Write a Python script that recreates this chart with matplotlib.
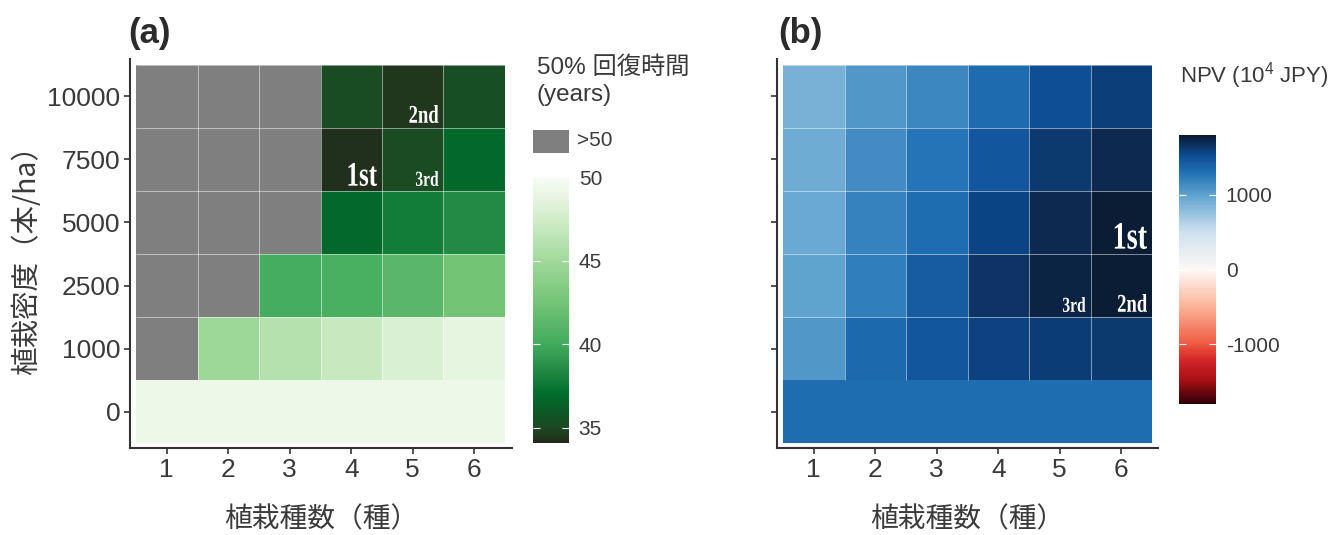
import numpy as np
import matplotlib
matplotlib.use("Agg")
import matplotlib.pyplot as plt
import matplotlib.transforms as mtransforms
from matplotlib.colors import LinearSegmentedColormap, Normalize
from matplotlib.cm import ScalarMappable
from matplotlib.patches import Rectangle, PathPatch
from matplotlib.textpath import TextPath
from matplotlib.font_manager import FontProperties

# ---------------- data ----------------
species = [1, 2, 3, 4, 5, 6]
density_labels = ["0", "1000", "2500", "5000", "7500", "10000"]

# 50% recovery time (years); NaN = longer than 50 years
recovery_1000 = [np.nan, 44.8, 46.0, 47.0, 48.0, 48.7]
recovery_2500 = [np.nan, np.nan, 40.2, 40.4, 41.2, 42.5]
recovery_5000 = [np.nan, np.nan, np.nan, 36.8, 37.8, 38.5]
recovery_7500 = [np.nan, np.nan, np.nan, 34.3, 35.1, 36.8]
recovery_10000 = [np.nan, np.nan, np.nan, 35.2, 34.5, 35.3]
recovery_no_planting = 49.2

# NPV (10^4 JPY)
npv_1000 = [1070, 1350, 1460, 1580, 1610, 1630]
npv_2500 = [990, 1220, 1430, 1650, 1735, 1780]
npv_5000 = [950, 1190, 1320, 1570, 1715, 1790]
npv_7500 = [930, 1140, 1280, 1460, 1625, 1710]
npv_10000 = [880, 1070, 1160, 1330, 1520, 1600]
npv_no_planting = 1320

# top three scenarios: (species, density, label)
ranks_recovery = [(4, "7500", "1st"), (5, "10000", "2nd"), (5, "7500", "3rd")]
ranks_npv = [(6, "5000", "1st"), (6, "2500", "2nd"), (5, "2500", "3rd")]

recovery_limits = (34.1, 50)
recovery_ticks = [35, 40, 45, 50]
npv_limits = (-1805, 1805)
npv_ticks = [-1000, 0, 1000]

# ---------------- style ----------------
plt.rcParams["font.family"] = ["Liberation Sans", "Noto Sans CJK JP"]
plt.rcParams["mathtext.fontset"] = "custom"
plt.rcParams["mathtext.rm"] = "Liberation Sans"
plt.rcParams["mathtext.it"] = "Liberation Sans:italic"
plt.rcParams["axes.unicode_minus"] = False
CJK = ["Noto Sans CJK JP", "DejaVu Sans"]
AX_COLOR = "#333333"
TXT_COLOR = "#3a3a3a"
GREY_NA = "#7f7f7f"

W, H = 1333, 535
fig = plt.figure(figsize=(W / 100, H / 100), dpi=100)


def px_rect(x0, y0, x1, y1):
    """Figure-fraction rectangle from pixel box (top-left origin)."""
    return [x0 / W, 1 - y1 / H, (x1 - x0) / W, (y1 - y0) / H]


green_anchors = [(34.1, "#23291a"), (35.0, "#1b4a22"), (35.8, "#0f5526"),
                 (37.0, "#006d2c"), (38.5, "#238b45"), (40.0, "#41ab5d"),
                 (42.5, "#74c476"), (45.0, "#a1d99b"), (47.0, "#c7e9c0"),
                 (48.5, "#e2f3dc"), (50.0, "#f7fcf5")]
lo, hi = recovery_limits
green_cmap = LinearSegmentedColormap.from_list(
    "recovery", [((v - lo) / (hi - lo), c) for v, c in green_anchors])
green_cmap.set_bad(GREY_NA)
green_norm = Normalize(lo, hi)

blue_anchors = [(-1805, "#2e0005"), (-1500, "#a50f15"), (-1200, "#d7282a"),
                (-1000, "#ef5a41"), (-500, "#fcb499"), (0, "#fdf8f6"),
                (500, "#cfe1ef"), (1000, "#5fa3cf"), (1300, "#2171b5"),
                (1550, "#0b4a90"), (1700, "#0d2d56"), (1805, "#0b1a30")]
nlo, nhi = npv_limits
npv_cmap = LinearSegmentedColormap.from_list(
    "npv", [((v - nlo) / (nhi - nlo), c) for v, c in blue_anchors])
npv_norm = Normalize(nlo, nhi)

rank_fp = FontProperties(family="Liberation Serif", weight="bold")


def rank_label(ax, x_right, y_bottom, text, height_px, squeeze=0.73, pad=5):
    tp = TextPath((0, 0), text, size=1, prop=rank_fp)
    ext = tp.get_extents()
    s = height_px / ext.height
    tr = (mtransforms.Affine2D().translate(-ext.x1, -ext.y0)
          .scale(s * squeeze, s).translate(-pad, pad)
          + mtransforms.ScaledTranslation(x_right, y_bottom, ax.transData))
    ax.add_patch(PathPatch(tp, transform=tr, facecolor="white",
                           edgecolor="none", zorder=5, clip_on=False))


def heat_panel(ax, rows, base_value, cmap, norm, ranks, rank_sizes, xlim, show_ylabels):
    n = len(species)
    x_edges = np.arange(n + 1) + 0.5
    y_edges = np.arange(1, len(rows) + 2) - 0.5
    grid = np.ma.masked_invalid(np.array(rows, dtype=float))
    # no-planting row is a single tile across all species counts
    ax.pcolormesh([x_edges[0], x_edges[-1]], [-0.5, 0.5], [[base_value]],
                  cmap=cmap, norm=norm, edgecolors="none", antialiased=True)
    ax.pcolormesh(x_edges, y_edges, grid, cmap=cmap, norm=norm,
                  edgecolors="none", antialiased=True)
    # thin white tile borders
    line_kw = dict(colors="white", alpha=0.5, linewidth=0.7, zorder=3)
    ax.vlines(x_edges[1:-1], y_edges[0], y_edges[-1], **line_kw)
    ax.hlines(y_edges[1:], x_edges[0], x_edges[-1], **line_kw)
    ax.set_xlim(*xlim)
    ax.set_ylim(-0.5 - 5 / 63, 5.5 + 6 / 63)
    ax.set_xticks(species)
    ax.set_yticks(range(len(density_labels)))
    ax.set_yticklabels(density_labels if show_ylabels else [])
    for side in ("top", "right"):
        ax.spines[side].set_visible(False)
    for side in ("left", "bottom"):
        ax.spines[side].set_color(AX_COLOR)
        ax.spines[side].set_linewidth(1.5)
    ax.tick_params(axis="both", colors=AX_COLOR, labelcolor=TXT_COLOR,
                   length=4, width=1.2, labelsize=19, pad=3)
    ax.set_xlabel("植栽種数（種）", family=CJK, fontsize=20, color=TXT_COLOR, labelpad=16)
    for sp, dens, lab in ranks:
        r = density_labels.index(dens)
        rank_label(ax, sp + 0.5, r - 0.5, lab, rank_sizes[lab])


# ---------------- panel (a) ----------------
ax_a = fig.add_axes(px_rect(130, 59, 512, 448))
heat_panel(ax_a, [recovery_1000, recovery_2500, recovery_5000, recovery_7500, recovery_10000],
           recovery_no_planting, green_cmap, green_norm, ranks_recovery,
           {"1st": 23, "2nd": 18, "3rd": 15}, (0.5 - 6 / 61.5, 6.5 + 7 / 61.5), True)
ax_a.set_ylabel("植栽密度（本/ha）", family=CJK, fontsize=20.5, color=TXT_COLOR, labelpad=4)
fig.text(128 / W, 1 - 34 / H, "(a)", fontsize=25, fontweight="bold", color="#2b2b2b", va="center")

# legend for panel (a)
fig.text(537 / W, 1 - 56 / H, "50% 回復時間\n(years)", fontsize=17.5, color=TXT_COLOR,
         va="top", ha="left", linespacing=1.3)
fig.add_artist(Rectangle((533 / W, 1 - 153 / H), 36 / W, 23 / H, transform=fig.transFigure,
                         facecolor=GREY_NA, edgecolor="none"))
fig.text(577 / W, 1 - 141 / H, ">50", fontsize=15, color=TXT_COLOR, va="center", ha="left")
cax_a = fig.add_axes(px_rect(533, 177, 569, 443))
cb_a = fig.colorbar(ScalarMappable(norm=green_norm, cmap=green_cmap), cax=cax_a, ticks=recovery_ticks)
cb_a.outline.set_visible(False)
cax_a.tick_params(axis="y", direction="in", color="white", length=5, width=0.8,
                  left=True, right=True, labelsize=15, labelcolor=TXT_COLOR, pad=7)

# ---------------- panel (b) ----------------
ax_b = fig.add_axes(px_rect(777, 59, 1158, 448))
heat_panel(ax_b, [npv_1000, npv_2500, npv_5000, npv_7500, npv_10000],
           npv_no_planting, npv_cmap, npv_norm, ranks_npv,
           {"1st": 26, "2nd": 18, "3rd": 15}, (0.5 - 6 / 61.5, 6.5 + 6 / 61.5), False)
fig.text(778 / W, 1 - 34 / H, "(b)", fontsize=25, fontweight="bold", color="#2b2b2b", va="center")

fig.text(1180 / W, 1 - 76 / H, "NPV (10$^{4}$ JPY)", fontsize=16, color=TXT_COLOR,
         va="center", ha="left")
cax_b = fig.add_axes(px_rect(1179, 135, 1216, 404))
cb_b = fig.colorbar(ScalarMappable(norm=npv_norm, cmap=npv_cmap), cax=cax_b, ticks=npv_ticks)
cb_b.outline.set_visible(False)
cax_b.tick_params(axis="y", direction="in", color="white", length=5, width=0.8,
                  left=True, right=True, labelsize=15, labelcolor=TXT_COLOR, pad=7)

fig.savefig("out.png", dpi=100, facecolor="white")
